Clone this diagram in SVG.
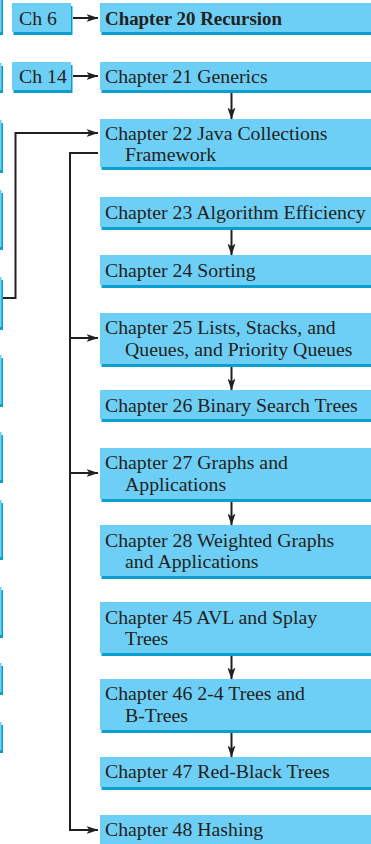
<svg xmlns="http://www.w3.org/2000/svg" width="371" height="844" viewBox="0 0 371 844">
  <style>
    .face { fill: #6dcff6; }
    .shade { fill: #0a9fd0; }
    .t { font-family: "Liberation Serif", "Times New Roman", serif; font-size: 19.8px; fill: #231f20; }
    .b { font-weight: bold; font-size: 18.9px; }
    .wire { fill: none; stroke: #231f20; stroke-width: 2; }
    .arr { marker-end: url(#head); }
  </style>
  <defs>
    <marker id="head" viewBox="0 0 12 8" refX="11.5" refY="4" markerWidth="12" markerHeight="8" markerUnits="userSpaceOnUse" orient="auto">
      <path d="M0,0 L12,4 L0,8 L3,4 z" fill="#231f20"/>
    </marker>
  </defs>

  <rect width="371" height="844" fill="#ffffff"/>

  <!-- column of boxes cut off at the left edge -->
  <g id="left-column">
    <rect class="shade" x="-58.5" y="-2" width="61.5" height="37"/>
    <rect class="face" x="-60" y="-5" width="61.5" height="37"/>
    <rect class="shade" x="-58.5" y="66" width="61.5" height="27"/>
    <rect class="face" x="-60" y="63" width="61.5" height="27"/>
    <rect class="shade" x="-58.5" y="123" width="61.5" height="50"/>
    <rect class="face" x="-60" y="120" width="61.5" height="50"/>
    <rect class="shade" x="-58.5" y="193" width="61.5" height="57"/>
    <rect class="face" x="-60" y="190" width="61.5" height="57"/>
    <rect class="shade" x="-58.5" y="280" width="61.5" height="50"/>
    <rect class="face" x="-60" y="277" width="61.5" height="50"/>
    <rect class="shade" x="-58.5" y="358" width="61.5" height="49"/>
    <rect class="face" x="-60" y="355" width="61.5" height="49"/>
    <rect class="shade" x="-58.5" y="435" width="61.5" height="48"/>
    <rect class="face" x="-60" y="432" width="61.5" height="48"/>
    <rect class="shade" x="-58.5" y="503" width="61.5" height="57"/>
    <rect class="face" x="-60" y="500" width="61.5" height="57"/>
    <rect class="shade" x="-58.5" y="590" width="61.5" height="48"/>
    <rect class="face" x="-60" y="587" width="61.5" height="48"/>
    <rect class="shade" x="-58.5" y="666" width="61.5" height="29"/>
    <rect class="face" x="-60" y="663" width="61.5" height="29"/>
    <rect class="shade" x="-58.5" y="725" width="61.5" height="28"/>
    <rect class="face" x="-60" y="722" width="61.5" height="28"/>
  </g>

  <g id="ch6">
    <rect class="shade" x="13.5" y="6" width="59" height="29"/>
    <rect class="face" x="12" y="3" width="59" height="29"/>
    <text class="t" x="19" y="24.5">Ch 6</text>
  </g>
  <g id="ch14">
    <rect class="shade" x="13.5" y="65" width="59" height="28"/>
    <rect class="face" x="12" y="62" width="59" height="28"/>
    <text class="t" x="19" y="83">Ch 14</text>
  </g>

  <g id="chapter20">
    <rect class="shade" x="101.5" y="6" width="290" height="29"/>
    <rect class="face" x="100" y="3" width="290" height="29"/>
    <text class="t b" x="105" y="24.5">Chapter 20 Recursion</text>
  </g>
  <g id="chapter21">
    <rect class="shade" x="101.5" y="65" width="290" height="28"/>
    <rect class="face" x="100" y="62" width="290" height="28"/>
    <text class="t" x="105" y="83">Chapter 21 Generics</text>
  </g>
  <g id="chapter22">
    <rect class="shade" x="101.5" y="122" width="290" height="48"/>
    <rect class="face" x="100" y="119" width="290" height="48"/>
    <text class="t" x="105" y="139.5">Chapter 22 Java Collections</text>
    <text class="t" x="125" y="161">Framework</text>
  </g>
  <g id="chapter23">
    <rect class="shade" x="101.5" y="200" width="290" height="30"/>
    <rect class="face" x="100" y="197" width="290" height="30"/>
    <text class="t" x="105" y="218.5">Chapter 23 Algorithm Efficiency</text>
  </g>
  <g id="chapter24">
    <rect class="shade" x="101.5" y="258" width="290" height="30"/>
    <rect class="face" x="100" y="255" width="290" height="30"/>
    <text class="t" x="105" y="276.5">Chapter 24 Sorting</text>
  </g>
  <g id="chapter25">
    <rect class="shade" x="101.5" y="316" width="290" height="51"/>
    <rect class="face" x="100" y="313" width="290" height="51"/>
    <text class="t" x="105" y="333.5">Chapter 25 Lists, Stacks, and</text>
    <text class="t" x="125" y="355.5">Queues, and Priority Queues</text>
  </g>
  <g id="chapter26">
    <rect class="shade" x="101.5" y="393" width="290" height="29"/>
    <rect class="face" x="100" y="390" width="290" height="29"/>
    <text class="t" x="105" y="411.5">Chapter 26 Binary Search Trees</text>
  </g>
  <g id="chapter27">
    <rect class="shade" x="101.5" y="451" width="290" height="51"/>
    <rect class="face" x="100" y="448" width="290" height="51"/>
    <text class="t" x="105" y="469">Chapter 27 Graphs and</text>
    <text class="t" x="125" y="491">Applications</text>
  </g>
  <g id="chapter28">
    <rect class="shade" x="101.5" y="528" width="290" height="51"/>
    <rect class="face" x="100" y="525" width="290" height="51"/>
    <text class="t" x="105" y="546.5">Chapter 28 Weighted Graphs</text>
    <text class="t" x="125" y="568">and Applications</text>
  </g>
  <g id="chapter45">
    <rect class="shade" x="101.5" y="605" width="290" height="51"/>
    <rect class="face" x="100" y="602" width="290" height="51"/>
    <text class="t" x="105" y="623.5">Chapter 45 AVL and Splay</text>
    <text class="t" x="125" y="645">Trees</text>
  </g>
  <g id="chapter46">
    <rect class="shade" x="101.5" y="682" width="290" height="51"/>
    <rect class="face" x="100" y="679" width="290" height="51"/>
    <text class="t" x="105" y="700">Chapter 46 2-4 Trees and</text>
    <text class="t" x="125" y="721.5">B-Trees</text>
  </g>
  <g id="chapter47">
    <rect class="shade" x="101.5" y="760" width="290" height="30"/>
    <rect class="face" x="100" y="757" width="290" height="30"/>
    <text class="t" x="105" y="778">Chapter 47 Red-Black Trees</text>
  </g>
  <g id="chapter48">
    <rect class="shade" x="101.5" y="818" width="290" height="40"/>
    <rect class="face" x="100" y="815" width="290" height="40"/>
    <text class="t" x="105" y="836">Chapter 48 Hashing</text>
  </g>

  <g id="connectors">
    <line class="wire arr" x1="73" y1="18" x2="98" y2="18"/>
    <line class="wire arr" x1="73" y1="76" x2="98" y2="76"/>
    <line class="wire arr" x1="231.5" y1="93" x2="231.5" y2="119"/>
    <line class="wire arr" x1="231.5" y1="230" x2="231.5" y2="255"/>
    <line class="wire arr" x1="231.5" y1="367" x2="231.5" y2="390"/>
    <line class="wire arr" x1="231.5" y1="502" x2="231.5" y2="525"/>
    <line class="wire arr" x1="231.5" y1="656" x2="231.5" y2="679"/>
    <line class="wire arr" x1="231.5" y1="733" x2="231.5" y2="757"/>
    <!-- link coming in from the left column -->
    <polyline class="wire arr" points="3,298 15.5,298 15.5,133 98,133"/>
    <!-- fan-out from Chapter 22 -->
    <polyline class="wire" points="98,153 70,153 70,830"/>
    <line class="wire arr" x1="69" y1="338" x2="98" y2="338"/>
    <line class="wire arr" x1="69" y1="473" x2="98" y2="473"/>
    <line class="wire arr" x1="69" y1="830" x2="98" y2="830"/>
  </g>
</svg>
